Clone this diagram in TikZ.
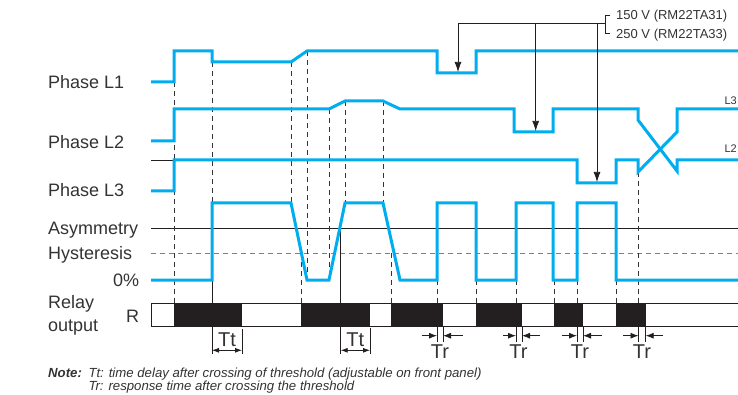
\documentclass[tikz,border=0pt]{standalone}
\usepackage{fontspec}
\setmainfont{Liberation Sans}
\usetikzlibrary{arrows.meta}
\definecolor{cyanwave}{HTML}{00AEEF}
\definecolor{ink}{HTML}{333333}
\definecolor{relayblack}{HTML}{231F20}

\begin{document}
\begin{tikzpicture}[x=1pt,y=-1pt,
  phase/.style={draw=cyanwave,line width=3pt},
  guide/.style={draw=ink,line width=0.8pt,dash pattern=on 5pt off 4pt},
  refline/.style={draw=relayblack,line width=0.8pt},
  lbl/.style={text=ink,font=\fontsize{18}{20}\selectfont,inner sep=0pt},
  marklbl/.style={text=ink,font=\fontsize{20}{22}\selectfont,inner sep=0pt},
  small/.style={text=ink,font=\fontsize{13}{15}\selectfont,inner sep=0pt},
  tip/.style={-{Latex[length=8pt,width=6pt]}},
  bigtip/.style={-{Latex[length=10pt,width=7pt]}}]
  \useasboundingbox (0,0) rectangle (738,395);

  \node[lbl,anchor=base west] (phL1) at (48,88.3) {Phase L1};
  \node[lbl,anchor=base west] (phL2) at (48,148.3) {Phase L2};
  \node[lbl,anchor=base west] (phL3) at (48,196.7) {Phase L3};
  \node[lbl,anchor=base west] (asym) at (48,235) {Asymmetry};
  \node[lbl,anchor=base west] (hyst) at (48,259) {Hysteresis};
  \node[lbl,anchor=base east] (zero) at (139.3,286) {0\%};
  \node[lbl,anchor=base west] (relay) at (48,308.3) {Relay};
  \node[lbl,anchor=base west] (outp) at (48,331.7) {output};
  \node[lbl,anchor=base east] (rout) at (139.3,322.7) {R};

  \draw[refline] (151,228) -- (740,228);
  \draw[draw=gray,line width=0.8pt,dash pattern=on 5pt off 4pt] (151,253) -- (740,253);
  \draw[refline] (151,160) -- (174,160);

  \fill[relayblack] (174,303) rectangle (242,326);
  \fill[relayblack] (301,303) rectangle (370,326);
  \fill[relayblack] (391,303) rectangle (443,326);
  \fill[relayblack] (476,303) rectangle (522,326);
  \fill[relayblack] (554,303) rectangle (583,326);
  \fill[relayblack] (616,303) rectangle (646,326);
  \draw[refline] (740,303) -- (151,303) -- (151,326) -- (740,326);

  \draw[guide] (174,82) -- (174,303);
  \draw[guide] (212,62) -- (212,203);
  \draw[guide] (291,62) -- (291,203);
  \draw[guide] (307,51) -- (307,280);
  \draw[guide] (301,253) -- (301,303);
  \draw[guide] (329,109) -- (329,280);
  \draw[guide] (345,101) -- (345,203);
  \draw[guide] (383,101) -- (383,203);
  \draw[guide] (391,253) -- (391,303);
  \draw[guide] (437,280) -- (437,303);
  \draw[guide] (476,280) -- (476,303);
  \draw[guide] (516,280) -- (516,303);
  \draw[guide] (554,280) -- (554,303);
  \draw[guide] (577,280) -- (577,303);
  \draw[guide] (616,280) -- (616,303);
  \draw[guide] (638.5,172) -- (638.5,303);

  \draw[refline] (212,280) -- (212,303);
  \draw[refline] (340.7,228) -- (340.7,303);

  \draw[phase] (151,82) -- (174,82) -- (174,51) -- (212,51) -- (212,62) -- (291,62)
    -- (307,51) -- (437,51) -- (437,73) -- (476,73) -- (476,51) -- (740,51);
  \draw[phase] (151,141) -- (174,141) -- (174,109) -- (329,109) -- (345,101) -- (383,101)
    -- (400,109) -- (514,109) -- (514,132) -- (553,132) -- (553,109) -- (638,109)
    -- (638,120) -- (677,171) -- (677,160) -- (740,160);
  \draw[phase] (151,191) -- (174,191) -- (174,160) -- (577,160) -- (577,183) -- (616,183)
    -- (616,160) -- (638,160) -- (638,172) -- (677,132) -- (677,109) -- (740,109);
  \draw[phase] (151,280) -- (212,280) -- (212,203) -- (291,203) -- (307,280) -- (329,280)
    -- (345,203) -- (383,203) -- (400,280) -- (437,280) -- (437,203) -- (476,203)
    -- (476,280) -- (516,280) -- (516,203) -- (553,203) -- (553,280) -- (577,280)
    -- (577,203) -- (616,203) -- (616,280) -- (740,280);

  \node[small,anchor=base east,font=\fontsize{11}{13}\selectfont] (endL3) at (737,105) {L3};
  \node[small,anchor=base east,font=\fontsize{11}{13}\selectfont] (endL2) at (737,153) {L2};

  \coordinate (brk) at (605,23.3);
  \coordinate (dipL1) at (458,72);
  \coordinate (dipL2) at (535.7,131);
  \coordinate (dipL3) at (597,182);
  \draw[refline,line width=0.7pt] (610,15) -- (605,15) -- (605,33.3) -- (610,33.3);
  \draw[refline,line width=0.7pt] (brk) -- (458,23.3);
  \draw[refline,line width=0.7pt,bigtip] (458,23.3) -- (dipL1);
  \draw[refline,line width=0.7pt,bigtip] (535.7,23.3) -- (dipL2);
  \draw[refline,line width=0.7pt,bigtip] (597,23.3) -- (dipL3);
  \node[small,anchor=base west] (v150) at (616,20) {150 V (RM22TA31)};
  \node[small,anchor=base west] (v250) at (616,39) {250 V (RM22TA33)};

  \draw[refline] (212,326) -- (212,354);
  \draw[refline] (242,329) -- (242,354);
  \draw[refline,{Latex[length=7pt,width=5pt]}-{Latex[length=7pt,width=5pt]}] (212,350.3) -- (242,350.3);
  \node[marklbl,anchor=base] (tt1) at (227,346) {Tt};
  \draw[refline] (340.7,326) -- (340.7,354);
  \draw[refline] (370,328) -- (370,354);
  \draw[refline,{Latex[length=7pt,width=5pt]}-{Latex[length=7pt,width=5pt]}] (340.7,350.3) -- (370,350.3);
  \node[marklbl,anchor=base] (tt2) at (355.3,346) {Tt};

  \draw[refline] (437,326) -- (437,341.7) (443,326) -- (443,341.7);
  \draw[refline,tip] (421.7,335.7) -- (437,335.7);
  \draw[refline,tip] (462.7,335.7) -- (443,335.7);
  \node[marklbl,anchor=base] (tr1) at (440,358.3) {Tr};
  \draw[refline] (516,326) -- (516,341.7) (522,326) -- (522,341.7);
  \draw[refline,tip] (503,335.7) -- (516,335.7);
  \draw[refline,tip] (540,335.7) -- (522,335.7);
  \node[marklbl,anchor=base] (tr2) at (518.5,358.3) {Tr};
  \draw[refline] (577,326) -- (577,341.7) (583,326) -- (583,341.7);
  \draw[refline,tip] (561.7,335.7) -- (577,335.7);
  \draw[refline,tip] (601.7,335.7) -- (583,335.7);
  \node[marklbl,anchor=base] (tr3) at (580,358.3) {Tr};
  \draw[refline] (638.5,326) -- (638.5,341.7) (645.7,326) -- (645.7,341.7);
  \draw[refline,tip] (623,335.7) -- (638.5,335.7);
  \draw[refline,tip] (663,335.7) -- (645.7,335.7);
  \node[marklbl,anchor=base] (tr4) at (642,358.3) {Tr};

  \node[small,anchor=base west,font=\fontsize{13.2}{15}\bfseries\itshape] (note) at (48,377.7) {Note:};
  \node[small,anchor=base west,font=\fontsize{13.2}{15}\itshape] (noteTt) at (88.3,377.7)
    {Tt: time delay after crossing of threshold (adjustable on front panel)};
  \node[small,anchor=base west,font=\fontsize{13.2}{15}\itshape] (noteTr) at (88.3,390)
    {Tr: response time after crossing the threshold};
\end{tikzpicture}
\end{document}
